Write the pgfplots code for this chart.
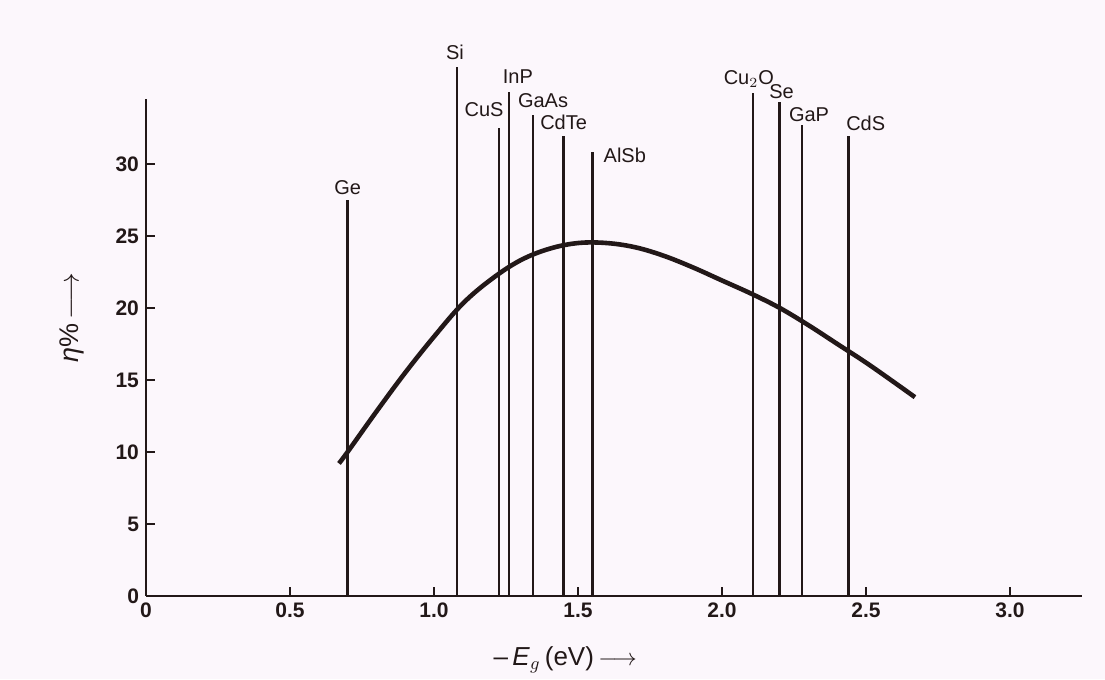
\documentclass[border=0pt]{standalone}
\usepackage{fontspec}
\setmainfont{Liberation Sans}
\usepackage{pgfplots}
\pgfplotsset{compat=1.18}
\definecolor{ink}{HTML}{221818}
\definecolor{paper}{HTML}{FCF7FC}
\tikzset{
  matl/.style={ink, line width=1.3pt},
  lab/.style={inner sep=0pt, anchor=base, text=ink, font=\fontsize{10}{12}\selectfont}
}
\begin{document}
\begin{tikzpicture}
\fill[paper] (-73pt,-41.5pt) rectangle (479.5pt,298pt);
\begin{axis}[
  at={(0,0)}, anchor=south west,
  width=468pt, height=248.5pt, scale only axis,
  xmin=0, xmax=3.25, ymin=0, ymax=34.5,
  axis lines=left, axis line style={-, line width=1.2pt, ink},
  clip=false,
  xtick={0,0.5,...,3.0}, xticklabels={0,0.5,1.0,1.5,2.0,2.5,3.0},
  ytick={0,5,...,30},
  tick align=inside, major tick length=4.5pt,
  tick style={line width=1pt, ink},
  ticklabel style={font=\bfseries\fontsize{10.5}{12}\selectfont, text=ink},
  /pgf/number format/assume math mode=true,
  xlabel={--\,\textit{E}$_g$\,(eV)\,$\longrightarrow$},
  xlabel style={at={(axis description cs:0.448,-0.129)}, anchor=center, text=ink,
                font=\fontsize{13}{15}\selectfont},
  ylabel={\textit{η}\%\,$\longrightarrow$},
  ylabel style={at={(axis description cs:-0.079,0.56)}, anchor=center, text=ink,
                font=\fontsize{13.5}{15}\selectfont},
]
% efficiency curve
\addplot[ink, line width=2.3pt, smooth, tension=0.6] coordinates {
  (0.67,9.2) (0.70,10.0) (0.80,12.8) (0.90,15.5) (1.00,18.0) (1.10,20.3)
  (1.20,22.0) (1.30,23.3) (1.40,24.1) (1.50,24.5) (1.60,24.5) (1.70,24.2)
  (1.80,23.6) (1.90,22.8) (2.00,21.9) (2.10,21.0) (2.20,20.0) (2.30,18.8)
  (2.40,17.5) (2.50,16.2) (2.60,14.8) (2.67,13.8)};
% band gaps of the materials
\addplot[matl] coordinates {(0.70,0) (0.70,27.5)} node[lab, pos=1, yshift=2.5pt] {Ge};
\addplot[matl] coordinates {(1.08,0) (1.08,36.7)} node[lab, pos=1, xshift=-1pt, yshift=4pt] {Si};
\addplot[matl] coordinates {(1.225,0) (1.225,32.5)} node[lab, pos=1, anchor=base east, xshift=3pt, yshift=5.5pt] {CuS};
\addplot[matl] coordinates {(1.26,0) (1.26,35.0)} node[lab, pos=1, xshift=4.5pt, yshift=4pt] {InP};
\addplot[matl] coordinates {(1.344,0) (1.344,33.4)} node[lab, pos=1, xshift=5pt, yshift=3.5pt] {GaAs};
\addplot[matl] coordinates {(1.45,0) (1.45,31.9)} node[lab, pos=1, yshift=3.5pt] {CdTe};
\addplot[matl] coordinates {(1.55,0) (1.55,30.8)} node[lab, pos=1, anchor=west, xshift=5pt, yshift=-1.5pt] {AlSb};
\addplot[matl] coordinates {(2.107,0) (2.107,34.9)} node[lab, pos=1, xshift=-2pt, yshift=4.5pt] {Cu$_2$O};
\addplot[matl] coordinates {(2.20,0) (2.20,34.3)} node[lab, pos=1, xshift=1pt, yshift=1.5pt] {Se};
\addplot[matl] coordinates {(2.278,0) (2.278,32.7)} node[lab, pos=1, xshift=3.5pt, yshift=1.5pt] {GaP};
\addplot[matl] coordinates {(2.44,0) (2.44,31.9)} node[lab, pos=1, xshift=8.5pt, yshift=3pt] {CdS};
\end{axis}
\end{tikzpicture}
\end{document}
